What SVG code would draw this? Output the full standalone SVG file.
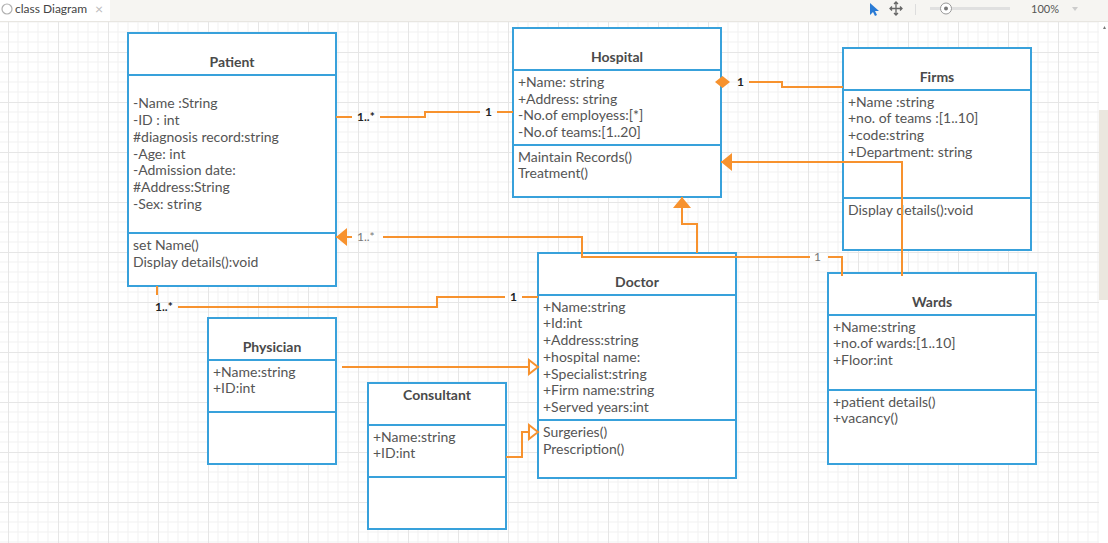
<svg xmlns="http://www.w3.org/2000/svg" width="1108" height="543" viewBox="0 0 1108 543">
<style>
.box{fill:#fff;stroke:#38a1db;stroke-width:2}
.div{stroke:#38a1db;stroke-width:2}
.title{font-family:Lato,"Liberation Sans",sans-serif;font-size:14px;font-weight:bold;fill:#4a4a4a;text-anchor:middle}
.attr{font-family:Lato,"Liberation Sans",sans-serif;font-size:14px;fill:#555}
.conn{fill:none;stroke:#f7922e;stroke-width:2}
.lblb{font-family:Lato,"Liberation Sans",sans-serif;font-size:12px;font-weight:bold;fill:#222}
.lblg{font-family:Lato,"Liberation Sans",sans-serif;font-size:12px;fill:#777}
.ui{font-family:Lato,"Liberation Sans",sans-serif;font-size:12px;fill:#444}
</style>
<defs>
<pattern id="grid" patternUnits="userSpaceOnUse" x="8" y="2" width="50" height="50">
<path d="M10,0V50M20,0V50M30,0V50M40,0V50M0,10H50M0,20H50M0,30H50M0,40H50" stroke="#f1f1f1" stroke-width="1" fill="none"/>
<path d="M0.5,0V50M0,0.5H50" stroke="#e6e6e6" stroke-width="1" fill="none"/>
</pattern>
<marker id="filled" markerUnits="userSpaceOnUse" markerWidth="12" markerHeight="18" refX="11" refY="9" orient="auto" overflow="visible">
<path d="M0,0 L11,9 L0,18 z" fill="#f7922e"/>
</marker>
<marker id="hollow" markerUnits="userSpaceOnUse" markerWidth="12" markerHeight="16" refX="10" refY="8" orient="auto" overflow="visible">
<path d="M1,1 L10,8 L1,15 z" fill="#fff" stroke="#f7922e" stroke-width="2"/>
</marker>
</defs>
<rect x="0" y="0" width="1108" height="543" fill="#fff"/>
<rect x="0" y="22" width="1099" height="521" fill="url(#grid)"/>
<!-- toolbar -->
<g id="toolbar">
<rect x="0" y="0" width="1108" height="21" fill="#f6f5f2"/>
<rect x="0" y="0" width="110" height="21" fill="#fff"/>
<line x1="0" y1="21.5" x2="1108" y2="21.5" stroke="#e8e6e1"/>
<circle cx="7" cy="9" r="5" fill="none" stroke="#b0b0b0" stroke-width="1.2"/>
<text x="15" y="13" class="ui">class Diagram</text>
<text x="95" y="13.5" class="ui" style="fill:#bbb;font-size:14px">×</text>
<path d="M870,3 L870,15 L873,12 L875,16 L877,15 L875,11 L879,11 z" fill="#2a7bd5"/>
<path d="M896,2 V15 M890,8.5 H902 M894,4 L896,2 L898,4 M894,13 L896,15 L898,13 M892,6.5 L890,8.5 L892,10.5 M900,6.5 L902,8.5 L900,10.5" stroke="#666" stroke-width="1.3" fill="none"/>
<line x1="915.5" y1="4" x2="915.5" y2="15" stroke="#ddd"/>
<rect x="930" y="7" width="80" height="3" fill="#e0e0e0"/>
<circle cx="946" cy="8.5" r="5.5" fill="#fff" stroke="#999"/>
<circle cx="946" cy="8.5" r="2" fill="#777"/>
<text x="1031" y="12.5" class="ui" style="font-size:11px;fill:#555">100%</text>
<path d="M1072,7 L1078,7 L1075,11 z" fill="#ccc"/>
</g>
<!-- scrollbar -->
<g id="scrollbar">
<rect x="1099" y="22" width="9" height="521" fill="#fff"/>
<rect x="1099" y="110" width="9" height="190" fill="#ebe7df"/>
<path d="M1103,29 L1106,29 L1104.5,26 z" fill="#777"/>
</g>
<!-- nodes -->
<g id="patient">
<rect class="box" x="128" y="33" width="208" height="253"/>
<line class="div" x1="128" y1="75" x2="336" y2="75"/>
<line class="div" x1="128" y1="233" x2="336" y2="233"/>
<text class="title" x="232" y="67">Patient</text>
<text class="attr" x="133" y="108">-Name :String</text>
<text class="attr" x="133" y="125">-ID : int</text>
<text class="attr" x="133" y="142">#diagnosis record:string</text>
<text class="attr" x="133" y="159">-Age: int</text>
<text class="attr" x="133" y="175">-Admission date:</text>
<text class="attr" x="133" y="192">#Address:String</text>
<text class="attr" x="133" y="209">-Sex: string</text>
<text class="attr" x="133" y="250">set Name()</text>
<text class="attr" x="133" y="267">Display details():void</text>
</g>
<g id="hospital">
<rect class="box" x="513" y="28" width="208" height="169"/>
<line class="div" x1="513" y1="70" x2="721" y2="70"/>
<line class="div" x1="513" y1="145" x2="721" y2="145"/>
<text class="title" x="617" y="62">Hospital</text>
<text class="attr" x="518" y="87">+Name: string</text>
<text class="attr" x="518" y="104">+Address: string</text>
<text class="attr" x="518" y="120">-No.of employess:[*]</text>
<text class="attr" x="518" y="137">-No.of teams:[1..20]</text>
<text class="attr" x="518" y="162">Maintain Records()</text>
<text class="attr" x="518" y="178">Treatment()</text>
</g>
<g id="firms">
<rect class="box" x="843" y="48" width="188" height="202"/>
<line class="div" x1="843" y1="90" x2="1031" y2="90"/>
<line class="div" x1="843" y1="198" x2="1031" y2="198"/>
<text class="title" x="937" y="82">Firms</text>
<text class="attr" x="848" y="107">+Name :string</text>
<text class="attr" x="848" y="123">+no. of teams :[1..10]</text>
<text class="attr" x="848" y="140">+code:string</text>
<text class="attr" x="848" y="157">+Department: string</text>
<text class="attr" x="848" y="215">Display details():void</text>
</g>
<g id="doctor">
<rect class="box" x="538" y="253" width="198" height="225"/>
<line class="div" x1="538" y1="295" x2="736" y2="295"/>
<line class="div" x1="538" y1="420" x2="736" y2="420"/>
<text class="title" x="637" y="287">Doctor</text>
<text class="attr" x="543" y="312">+Name:string</text>
<text class="attr" x="543" y="328">+Id:int</text>
<text class="attr" x="543" y="345">+Address:string</text>
<text class="attr" x="543" y="362">+hospital name:</text>
<text class="attr" x="543" y="379">+Specialist:string</text>
<text class="attr" x="543" y="395">+Firm name:string</text>
<text class="attr" x="543" y="412">+Served years:int</text>
<text class="attr" x="543" y="437">Surgeries()</text>
<text class="attr" x="543" y="454">Prescription()</text>
</g>
<g id="wards">
<rect class="box" x="828" y="273" width="208" height="191"/>
<line class="div" x1="828" y1="315" x2="1036" y2="315"/>
<line class="div" x1="828" y1="390" x2="1036" y2="390"/>
<text class="title" x="932" y="307">Wards</text>
<text class="attr" x="833" y="332">+Name:string</text>
<text class="attr" x="833" y="348">+no.of wards:[1..10]</text>
<text class="attr" x="833" y="365">+Floor:int</text>
<text class="attr" x="833" y="407">+patient details()</text>
<text class="attr" x="833" y="423">+vacancy()</text>
</g>
<g id="physician">
<rect class="box" x="208" y="318" width="128" height="146"/>
<line class="div" x1="208" y1="360" x2="336" y2="360"/>
<line class="div" x1="208" y1="412" x2="336" y2="412"/>
<text class="title" x="272" y="352">Physician</text>
<text class="attr" x="213" y="377">+Name:string</text>
<text class="attr" x="213" y="393">+ID:int</text>
</g>
<g id="consultant">
<rect class="box" x="368" y="383" width="138" height="146"/>
<line class="div" x1="368" y1="425" x2="506" y2="425"/>
<line class="div" x1="368" y1="477" x2="506" y2="477"/>
<text class="title" x="437" y="400">Consultant</text>
<text class="attr" x="373" y="442">+Name:string</text>
<text class="attr" x="373" y="458">+ID:int</text>
</g>
<!-- connectors -->
<g id="connectors">
<path class="conn" d="M336,117 H352"/>
<text class="lblb" x="357" y="121">1..*</text>
<path class="conn" d="M380,117 H425 V112 H480"/>
<text class="lblb" x="485" y="116">1</text>
<path class="conn" d="M497,112 H513"/>

<polygon points="715,82 722.5,76 730,82 722.5,88" fill="#f7922e"/>
<text class="lblb" x="737" y="86">1</text>
<path class="conn" d="M749,82 H782 V87 H843"/>

<path class="conn" d="M902,276 V162 H721" marker-end="url(#filled)"/>

<path class="conn" d="M697,253 V224 H682 V197" marker-end="url(#filled)"/>

<path class="conn" d="M352,237 H336" marker-end="url(#filled)"/>
<text class="lblg" x="357" y="241">1..*</text>
<path class="conn" d="M383,237 H582 V257 H810"/>
<text class="lblg" x="814" y="261">1</text>
<path class="conn" d="M828,257 H842 V276"/>

<path class="conn" d="M157,286 V295"/>
<text class="lblb" x="155" y="311">1..*</text>
<path class="conn" d="M178,307 H437 V297 H505"/>
<text class="lblb" x="510" y="301">1</text>
<path class="conn" d="M522,297 H538"/>

<path class="conn" d="M342,367 H538" marker-end="url(#hollow)"/>
<path class="conn" d="M506,457 H522 V432 H538" marker-end="url(#hollow)"/>
</g>
</svg>
